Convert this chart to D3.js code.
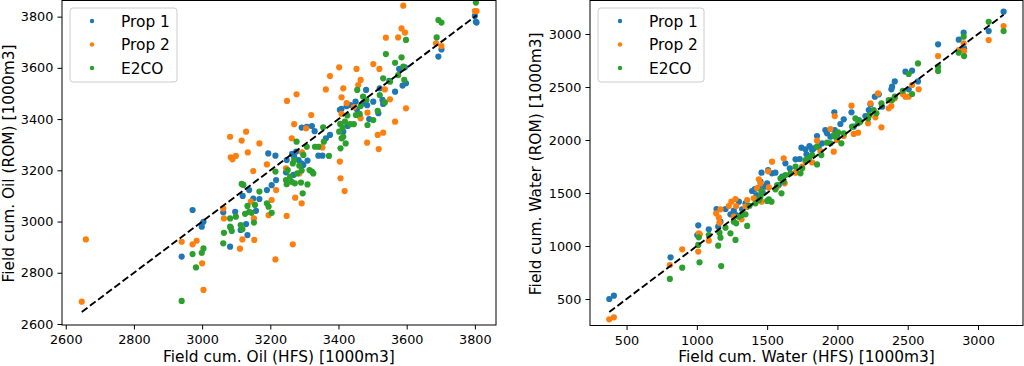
<!DOCTYPE html>
<html>
<head>
<meta charset="utf-8">
<script src="https://cdn.jsdelivr.net/npm/d3@7"></script>
<style>
  body { margin: 0; background: #fff; }
  text { font-family: "DejaVu Sans", sans-serif; fill: #000; }
</style>
</head>
<body>
<div id="chart"></div>
<script>
// Series names and colours (matplotlib default cycle)
var seriesNames = ["Prop 1", "Prop 2", "E2CO"];
var seriesColors = ["#1f77b4", "#ff7f0e", "#2ca02c"];

// Tick values
var oilTicks = [2600, 2800, 3000, 3200, 3400, 3600, 3800];
var waterTicks = [500, 1000, 1500, 2000, 2500, 3000];

// Field cum. oil, pairs of [HFS, ROM]
var oilProp1 = [[2940,2863],[2972,3045],[2999,2980],[3004,2999],[3062,3036],[3084,2976],[3082,2902],[3097,3038],
  [3113,2967],[3119,3100],[3129,2990],[3133,2947],[3138,3123],[3150,3090],[3158,3042],[3168,3088],[3190,3123],
  [3194,3266],[3204,3142],[3215,3257],[3217,3162],[3246,3192],[3248,3240],[3264,3264],[3270,3253],[3268,3182],
  [3276,3273],[3283,3240],[3292,3367],[3291,3227],[3297,3221],[3307,3370],[3309,3238],[3322,3373],[3330,3353],
  [3341,3257],[3353,3257],[3363,3325],[3375,3338],[3404,3436],[3409,3440],[3414,3351],[3424,3451],[3427,3373],
  [3435,3455],[3450,3468],[3454,3438],[3462,3412],[3472,3462],[3481,3514],[3484,3454],[3490,3400],[3502,3468],
  [3517,3423],[3521,3520],[3529,3475],[3531,3459],[3549,3549],[3566,3507],[3578,3596],[3588,3531],[3595,3602],
  [3598,3540],[3693,3644],[3702,3672],[3800,3803],[3803,3780],[3805,3777]];

var oilProp2 = [[2647,2687],[2659,2930],[2940,2921],[2972,2911],[2984,2925],[3000,2837],[3004,2733],[3062,3051],
  [3064,3012],[3082,3331],[3084,3251],[3089,3243],[3099,3256],[3116,3316],[3129,3351],[3134,3270],[3111,2894],
  [3118,2930],[3150,3197],[3143,3078],[3152,3012],[3153,2928],[3168,3305],[3190,3223],[3195,3025],[3204,3084],
  [3215,2852],[3217,3123],[3246,3208],[3248,3022],[3249,3471],[3263,3325],[3266,2911],[3270,3380],[3273,3093],
  [3277,3497],[3285,3188],[3292,3071],[3293,3270],[3305,3364],[3320,3416],[3346,3292],[3353,3289],[3363,3516],
  [3375,3568],[3402,3602],[3404,3234],[3406,3169],[3409,3420],[3418,3119],[3414,3520],[3409,3485],[3424,3462],
  [3445,3446],[3453,3596],[3458,3533],[3465,3553],[3465,3403],[3484,3308],[3485,3425],[3502,3615],[3515,3338],
  [3518,3283],[3520,3596],[3531,3347],[3536,3516],[3539,3718],[3551,3477],[3566,3390],[3575,3719],[3585,3754],
  [3590,3843],[3595,3738],[3598,3442],[3686,3696],[3702,3685],[3800,3822],[3805,3822]];

var oilE2co = [[2940,2690],[2972,2873],[2982,2821],[2999,2878],[3004,2895],[3062,2915],[3064,2956],[3082,2980],
  [3087,2963],[3082,3012],[3099,3019],[3113,2986],[3118,2970],[3126,3030],[3133,3061],[3138,3038],[3145,3034],
  [3152,2996],[3155,3065],[3168,3117],[3190,3071],[3195,3058],[3204,3034],[3215,3195],[3116,3147],[3121,3143],
  [3246,3162],[3248,3146],[3251,3201],[3258,3175],[3263,3155],[3266,3227],[3270,3240],[3272,3149],[3277,3312],
  [3279,3188],[3285,3218],[3290,3152],[3292,3199],[3295,3110],[3297,3260],[3307,3292],[3309,3145],[3315,3201],
  [3322,3195],[3326,3188],[3331,3292],[3341,3292],[3355,3368],[3357,3312],[3372,3256],[3402,3351],[3405,3381],
  [3406,3286],[3409,3325],[3412,3367],[3414,3331],[3419,3390],[3421,3305],[3426,3414],[3434,3380],[3445,3380],
  [3451,3416],[3455,3514],[3462,3420],[3465,3451],[3472,3488],[3482,3475],[3485,3377],[3502,3396],[3515,3432],
  [3521,3494],[3531,3559],[3536,3465],[3539,3654],[3551,3546],[3566,3620],[3575,3572],[3585,3641],[3590,3605],
  [3593,3553],[3598,3709],[3688,3719],[3693,3787],[3702,3777],[3803,3855]];

// Field cum. water, pairs of [HFS, ROM]
var waterProp1 = [[377,500],[410,531],[813,893],[1010,1195],[1003,1104],[1085,1157],[1140,1349],[1152,1182],
  [1168,1230],[1204,1349],[1239,1299],[1263,1333],[1280,1292],[1299,1418],[1322,1346],[1346,1403],[1358,1371],
  [1393,1519],[1412,1538],[1424,1481],[1441,1550],[1453,1607],[1460,1692],[1469,1503],[1483,1560],[1500,1591],
  [1507,1717],[1535,1686],[1559,1692],[1583,1575],[1607,1654],[1630,1780],[1661,1733],[1702,1818],[1732,1821],
  [1744,1928],[1773,1912],[1780,1865],[1801,1943],[1820,1906],[1832,1921],[1855,2038],[1867,1937],[1891,1969],
  [1914,2094],[1926,2063],[1950,2031],[1981,2094],[1978,2261],[1998,2047],[2021,2151],[2045,2195],[2100,2261],
  [2116,2126],[2152,2189],[2199,2226],[2223,2283],[2235,2336],[2266,2409],[2294,2431],[2318,2314],[2384,2478],
  [2389,2503],[2408,2553],[2484,2645],[2507,2478],[2531,2654],[2573,2553],[2716,2903],[2863,2947],[2898,3013],
  [2901,2865],[3076,3028],[3182,3211]];

var waterProp2 = [[377,308],[410,327],[808,821],[896,969],[1010,947],[1014,1120],[1021,1110],[1085,1050],
  [1156,1270],[1161,1220],[1168,1346],[1137,1308],[1227,1377],[1246,1418],[1263,1277],[1275,1443],[1280,1377],
  [1318,1252],[1346,1371],[1358,1434],[1405,1450],[1429,1544],[1441,1629],[1453,1591],[1460,1418],[1512,1553],
  [1507,1705],[1535,1796],[1571,1560],[1618,1827],[1625,1591],[1702,1692],[1749,1748],[1773,1796],[1820,1789],
  [1855,1994],[1879,1896],[1950,2104],[1974,1890],[1981,2226],[1998,2000],[2045,2038],[2100,2324],[2116,2057],
  [2147,2069],[2218,2157],[2235,2346],[2270,2214],[2289,2440],[2313,2120],[2365,2299],[2384,2321],[2408,2393],
  [2465,2434],[2484,2409],[2507,2409],[2531,2519],[2578,2478],[2716,2792],[2863,2849],[2898,2912],[2901,2840],
  [3076,2943],[3182,3075]];

var waterE2co = [[808,689],[896,796],[1010,1010],[1014,1082],[1019,846],[1085,1104],[1152,1003],[1161,1126],
  [1168,1079],[1173,811],[1204,1173],[1239,1120],[1263,1230],[1275,1057],[1280,1214],[1299,1277],[1318,1292],
  [1346,1299],[1358,1189],[1375,1380],[1417,1403],[1441,1434],[1453,1465],[1460,1513],[1500,1425],[1512,1440],
  [1531,1418],[1559,1535],[1571,1575],[1595,1638],[1602,1497],[1618,1607],[1630,1670],[1666,1686],[1702,1748],
  [1737,1686],[1749,1733],[1773,1811],[1797,1827],[1820,1858],[1855,1937],[1855,1770],[1886,1858],[1926,1975],
  [1950,1969],[1974,2047],[1986,2031],[2005,2072],[2028,1969],[2045,2063],[2104,2126],[2128,2204],[2147,2157],
  [2163,2173],[2218,2204],[2228,2236],[2258,2283],[2277,2252],[2313,2346],[2365,2377],[2389,2377],[2408,2409],
  [2465,2465],[2507,2623],[2531,2434],[2573,2723],[2716,2692],[2716,2651],[2863,2824],[2898,2975],[2901,2792],
  [3076,3116],[3182,3028]];

var width = 1024, height = 366;

var svg = d3.select("#chart")
  .append("svg")
    .attr("width", width)
    .attr("height", height);

// Left panel: oil
createPanel({
  id: "oil",
  left: 62, right: 496, top: 0, bottom: 325,
  xDomain: [2589, 3862], yDomain: [2596, 3865],
  ticks: oilTicks,
  series: [oilProp1, oilProp2, oilE2co],
  xLabel: "Field cum. Oil (HFS) [1000m3]",
  yLabel: "Field cum. Oil (ROM) [1000m3]",
  yLabelX: 14,
  legendWidth: 107
});

// Right panel: water
createPanel({
  id: "water",
  left: 590, right: 1023, top: 0, bottom: 325.5,
  xDomain: [240, 3320], yDomain: [250, 3321],
  ticks: waterTicks,
  series: [waterProp1, waterProp2, waterE2co],
  xLabel: "Field cum. Water (HFS) [1000m3]",
  yLabel: "Field cum. Water (ROM) [1000m3]",
  yLabelX: 541,
  legendWidth: 106
});

function createPanel(cfg) {
  var x = d3.scaleLinear().domain(cfg.xDomain).range([cfg.left, cfg.right]);
  var y = d3.scaleLinear().domain(cfg.yDomain).range([cfg.bottom, cfg.top]);

  var g = svg.append("g");

  g.append("clipPath")
      .attr("id", "clip-" + cfg.id)
    .append("rect")
      .attr("x", cfg.left).attr("y", cfg.top)
      .attr("width", cfg.right - cfg.left)
      .attr("height", cfg.bottom - cfg.top);

  var plot = g.append("g").attr("clip-path", "url(#clip-" + cfg.id + ")");

  // Scatter points, one series at a time
  cfg.series.forEach(function(data, i) {
    plot.selectAll(".pt" + i)
      .data(data)
      .enter()
      .append("circle")
        .attr("cx", function(d) { return x(d[0]); })
        .attr("cy", function(d) { return y(d[1]); })
        .attr("r", 3.1)
        .attr("fill", seriesColors[i]);
  });

  // 1:1 line across the HFS range
  var allX = d3.merge(cfg.series).map(function(d) { return d[0]; });
  var ext = d3.extent(allX);
  plot.append("path")
      .datum([ext[0], ext[1]])
      .attr("d", d3.line()
        .x(function(d) { return x(d); })
        .y(function(d) { return y(d); }))
      .attr("fill", "none")
      .attr("stroke", "#000")
      .attr("stroke-width", 1.9)
      .attr("stroke-dasharray", "7.1,3.1");

  // Axes
  var xAxis = g.append("g")
      .attr("transform", "translate(0," + cfg.bottom + ")")
      .call(d3.axisBottom(x).tickValues(cfg.ticks).tickSize(4.5).tickPadding(5.5).tickFormat(d3.format("d")));
  var yAxis = g.append("g")
      .attr("transform", "translate(" + cfg.left + ",0)")
      .call(d3.axisLeft(y).tickValues(cfg.ticks).tickSize(4.5).tickPadding(4.2).tickFormat(d3.format("d")));

  [xAxis, yAxis].forEach(function(a) {
    a.select(".domain").remove();
    a.selectAll("line").attr("stroke", "#000").attr("stroke-width", 1);
    a.selectAll("text")
      .attr("font-family", "DejaVu Sans")
      .attr("font-size", "12.8px")
      .attr("fill", "#000");
  });

  // Frame
  g.append("rect")
      .attr("x", cfg.left).attr("y", cfg.top + 0.5)
      .attr("width", cfg.right - cfg.left)
      .attr("height", cfg.bottom - cfg.top - 0.5)
      .attr("fill", "none")
      .attr("stroke", "#000")
      .attr("stroke-width", 1);

  // Axis labels
  g.append("text")
      .attr("text-anchor", "middle")
      .attr("x", (cfg.left + cfg.right) / 2)
      .attr("y", 362)
      .attr("font-size", "15.4px")
      .text(cfg.xLabel);

  g.append("text")
      .attr("text-anchor", "middle")
      .attr("transform", "translate(" + cfg.yLabelX + "," + ((cfg.top + cfg.bottom) / 2 + 1) + ") rotate(-90)")
      .attr("font-size", "15.4px")
      .text(cfg.yLabel);

  // Legend
  var lg = g.append("g").attr("transform", "translate(" + (cfg.left + 8) + ",8)");
  lg.append("rect")
      .attr("width", cfg.legendWidth)
      .attr("height", 74)
      .attr("rx", 3)
      .attr("fill", "#fff")
      .attr("fill-opacity", 0.8)
      .attr("stroke", "#cccccc")
      .attr("stroke-width", 1);

  var rows = lg.selectAll(".row")
      .data(seriesNames)
      .enter()
      .append("g")
        .attr("transform", function(d, i) { return "translate(0," + (13 + i * 23.5) + ")"; });

  rows.append("circle")
      .attr("cx", 22)
      .attr("cy", 0)
      .attr("r", 2.2)
      .attr("fill", function(d, i) { return seriesColors[i]; });

  rows.append("text")
      .attr("x", 51)
      .attr("y", 5.6)
      .attr("font-size", "15.4px")
      .text(function(d) { return d; });
}
</script>
</body>
</html>
